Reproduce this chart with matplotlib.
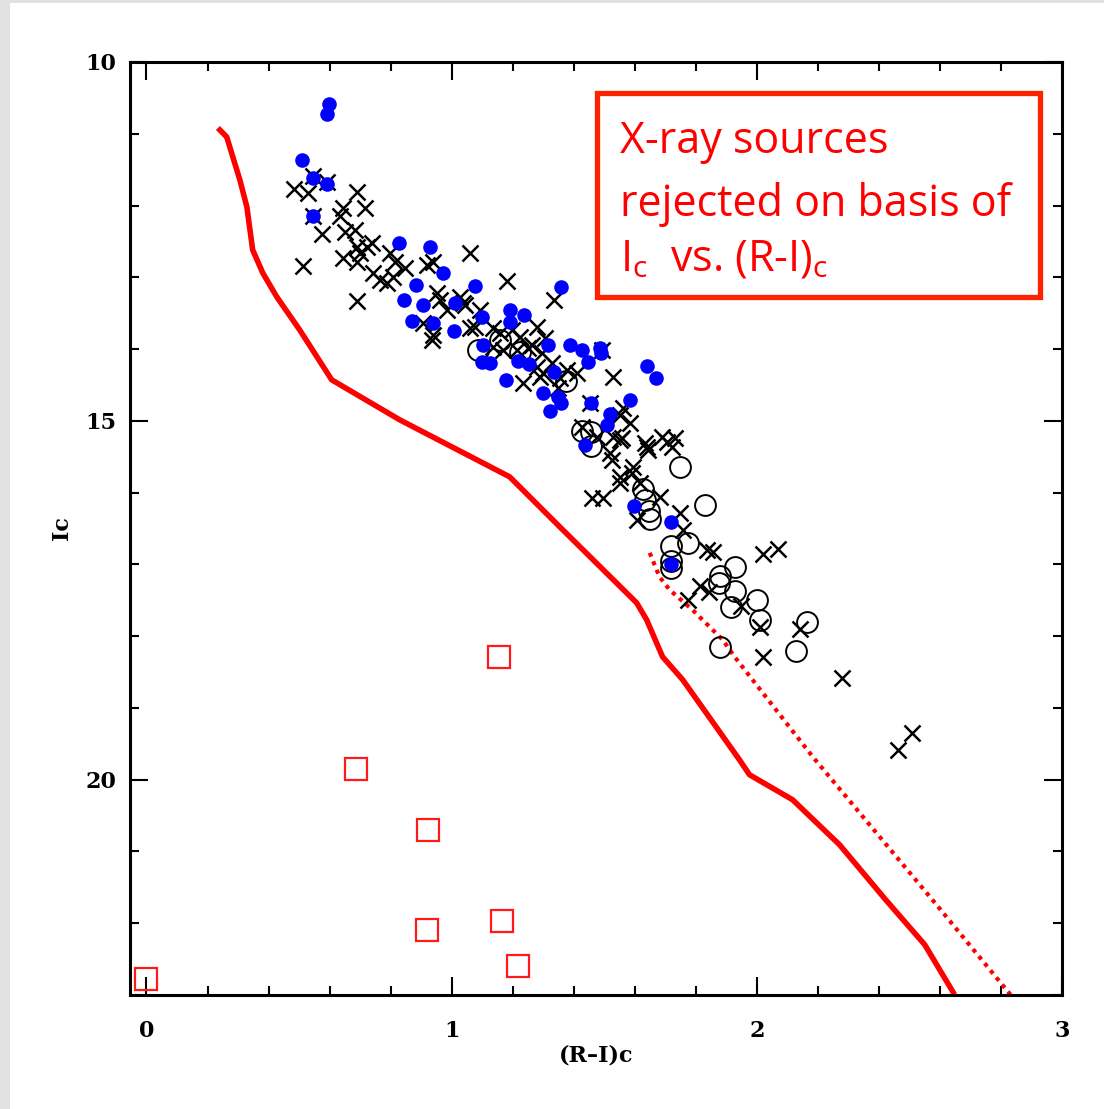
import matplotlib.pyplot as plt
from matplotlib.patches import Rectangle
from matplotlib.ticker import MultipleLocator

################################################################
# Ic vs (R-I)c colour-magnitude data
# members (filled blue)
blue_ri = [0.597, 0.591, 0.509, 0.545, 0.591, 0.545, 0.827, 0.928, 0.971, 0.882,
           1.076, 1.357, 0.843, 0.905, 1.010, 0.869, 0.938, 1.007, 1.099, 1.190,
           1.236, 1.190, 1.102, 1.099, 1.125, 1.217, 1.253, 1.315, 1.387, 1.426,
           1.446, 1.485, 1.488, 1.334, 1.177, 1.298, 1.348, 1.357, 1.321, 1.639,
           1.668, 1.456, 1.583, 1.518, 1.508, 1.436, 1.597, 1.718, 1.718]
blue_ic = [10.585, 10.724, 11.365, 11.616, 11.699, 12.145, 12.521, 12.577, 12.939, 13.106,
           13.120, 13.134, 13.315, 13.384, 13.357, 13.607, 13.635, 13.747, 13.552, 13.454,
           13.524, 13.621, 13.942, 14.178, 14.192, 14.164, 14.206, 13.942, 13.942, 14.011,
           14.178, 13.983, 14.053, 14.318, 14.429, 14.610, 14.666, 14.749, 14.861, 14.234,
           14.401, 14.749, 14.708, 14.903, 15.056, 15.334, 16.184, 16.407, 16.992]

# crosses
cross_ri = [0.483, 0.529, 0.545, 0.591, 0.689, 0.545, 0.643, 0.715, 0.633, 0.574,
            0.650, 0.683, 0.512, 0.643, 0.689, 0.722, 0.699, 0.738, 0.689, 0.797,
            0.814, 0.741, 0.764, 0.807, 0.846, 0.918, 0.938, 1.059, 0.787, 0.689,
            1.180, 1.337, 0.935, 0.938, 0.984, 1.036, 0.961, 1.059, 1.092, 1.158,
            1.197, 1.135, 1.167, 1.223, 1.249, 1.279, 1.305, 1.289, 1.279, 1.233,
            1.328, 1.377, 1.348, 1.528, 1.492, 1.452, 1.583, 1.551, 1.528, 1.551,
            1.518, 1.475, 1.426, 1.639, 1.688, 1.705, 1.721, 1.593, 1.551, 1.616,
            1.459, 1.495, 1.524, 1.551, 1.590, 1.557, 1.642, 1.731, 1.682, 1.747,
            1.757, 1.606, 1.836, 1.855, 2.019, 2.068, 1.813, 1.842, 1.773, 1.947,
            2.009, 2.140, 2.019, 2.278, 2.461, 2.510, 1.043, 1.076, 1.135, 1.213,
            1.262, 1.295, 1.298, 1.354, 1.410, 0.951, 0.905, 1.027, 1.632, 1.560]
cross_ic = [11.769, 11.825, 11.588, 11.671, 11.811, 12.145, 12.033, 12.033, 12.145, 12.396,
            12.368, 12.340, 12.841, 12.730, 12.577, 12.577, 12.660, 12.521, 12.786, 12.660,
            12.786, 12.939, 13.036, 12.995, 12.869, 12.827, 12.786, 12.660, 13.078, 13.329,
            13.050, 13.315, 13.872, 13.802, 13.454, 13.357, 13.315, 13.705, 13.454, 13.775,
            13.733, 13.970, 14.011, 13.830, 13.983, 13.691, 13.844, 14.387, 14.248, 14.471,
            14.192, 14.290, 14.541, 14.387, 14.011, 14.749, 15.028, 14.917, 15.223, 15.265,
            15.446, 15.223, 15.084, 15.362, 15.223, 15.293, 15.362, 15.641, 15.864, 15.864,
            16.073, 16.073, 15.543, 15.780, 15.724, 15.237, 15.404, 15.237, 16.059, 16.282,
            16.518, 16.379, 16.797, 16.825, 16.853, 16.783, 17.298, 17.382, 17.493, 17.577,
            17.870, 17.897, 18.287, 18.580, 19.582, 19.345, 13.384, 13.691, 13.705, 14.011,
            13.942, 14.053, 14.331, 14.401, 14.331, 13.217, 13.635, 13.273, 15.306, 14.819]

# open circles
circ_ri = [1.085, 1.158, 1.223, 1.374, 1.427, 1.457, 1.457, 1.747, 1.829, 1.626,
           1.646, 1.649, 1.718, 1.718, 1.718, 1.773, 1.878, 1.875, 1.927, 1.927,
           1.999, 1.917, 2.009, 2.166, 1.878, 2.130, 1.632]
circ_ic = [14.011, 13.872, 14.039, 14.443, 15.139, 15.153, 15.348, 15.641, 16.170, 15.947,
           16.253, 16.365, 16.741, 16.950, 17.047, 16.699, 17.159, 17.256, 17.033, 17.368,
           17.493, 17.591, 17.772, 17.799, 18.148, 18.203, 16.100]

# rejected X-ray sources (red squares)
rej_ri = [0.0, 0.686, 0.922, 1.154, 0.918, 1.164, 1.217]
rej_ic = [22.772, 19.847, 20.697, 18.287, 22.089, 21.964, 22.598]

# solid red sequence
seq_ri = [0.234, 0.263, 0.283, 0.306, 0.329, 0.348, 0.381, 0.427, 0.502, 0.607,
          0.830, 1.190, 1.354, 1.606, 1.639, 1.691, 1.757, 1.943, 1.976, 2.117,
          2.271, 2.422, 2.550, 2.648]
seq_ic = [10.919, 11.045, 11.323, 11.643, 12.020, 12.618, 12.939, 13.273, 13.733, 14.429,
          14.986, 15.780, 16.476, 17.535, 17.772, 18.287, 18.607, 19.722, 19.931, 20.279,
          20.906, 21.672, 22.298, 22.995]

# dotted red cut
cut_ri = [1.649, 1.681, 1.714, 1.789, 1.888, 1.927, 2.019, 2.183, 2.575, 2.831]
cut_ic = [16.839, 17.173, 17.354, 17.633, 18.050, 18.287, 18.788, 19.680, 21.672, 22.995]

note_lines = ["X-ray sources", "rejected on basis of", r"I$_{\mathrm{c}}$  vs. (R-I)$_{\mathrm{c}}$"]
################################################################

W, H = 1104, 1109
plt.rcParams['mathtext.fontset'] = 'custom'
plt.rcParams['mathtext.rm'] = 'Open Sans'

fig = plt.figure(figsize=(W / 100, H / 100), dpi=100, facecolor='#e1e1e1')
# white page inside the grey frame
fig.add_artist(Rectangle((10 / W, 0), 1 - 10 / W, 1 - 3 / H, transform=fig.transFigure,
                         facecolor='white', edgecolor='none', zorder=0))

ax = fig.add_axes([130 / W, 1 - 995 / H, (1062 - 130) / W, (995 - 62) / H])
ax.set_xlim(-0.054, 3.0)
ax.set_ylim(23.0, 10.0)

ax.plot(seq_ri, seq_ic, color='#ff0000', lw=4.0, solid_capstyle='butt', zorder=2)
ax.plot(cut_ri, cut_ic, color='#ff0000', lw=3.0, ls=(0, (1.0, 1.2)), zorder=2)

ax.plot(circ_ri, circ_ic, ls='none', marker='o', ms=15, mfc='none', mec='black', mew=1.4, zorder=3)
ax.plot(cross_ri, cross_ic, ls='none', marker='x', ms=11.5, mec='black', mew=1.8, zorder=4)
ax.plot(blue_ri, blue_ic, ls='none', marker='o', ms=10.5, mfc='#0000ff', mec='#0000ff', mew=0, zorder=5)
ax.plot(rej_ri, rej_ic, ls='none', marker='s', ms=15.5, mfc='none', mec='#ff1a1a', mew=1.6, zorder=6)

# pgplot style box: inward ticks on all four sides
ax.xaxis.set_major_locator(MultipleLocator(1))
ax.xaxis.set_minor_locator(MultipleLocator(0.2))
ax.yaxis.set_major_locator(MultipleLocator(5))
ax.yaxis.set_minor_locator(MultipleLocator(1))
ax.tick_params(which='both', direction='in', top=True, right=True, width=1.5, color='black')
ax.tick_params(which='major', length=13)
ax.tick_params(which='minor', length=6.5)
ax.tick_params(axis='x', which='major', pad=18)
ax.tick_params(axis='y', which='major', pad=10)
for s in ax.spines.values():
    s.set_linewidth(2.2)

tick_font = dict(family='DejaVu Serif', weight='bold', size=16)
for lab in ax.get_xticklabels() + ax.get_yticklabels():
    lab.set_fontproperties(tick_font)
ax.set_xlabel('(R–I)c', fontdict=tick_font, labelpad=2)
ax.set_ylabel('Ic', fontdict=tick_font, labelpad=9)

# annotation box
fig.add_artist(Rectangle((597 / W, 1 - 297 / H), (1040 - 597) / W, (297 - 93) / H,
                         transform=fig.transFigure, facecolor='white',
                         edgecolor='#ff2200', lw=3.8, zorder=7))
for line, base in zip(note_lines, [153, 216, 271]):
    fig.text(620 / W, 1 - base / H, line, color='#ff0000', family='Open Sans',
             fontsize=31, va='baseline', ha='left', zorder=8)

fig.savefig('out.png', dpi=100, facecolor=fig.get_facecolor())
